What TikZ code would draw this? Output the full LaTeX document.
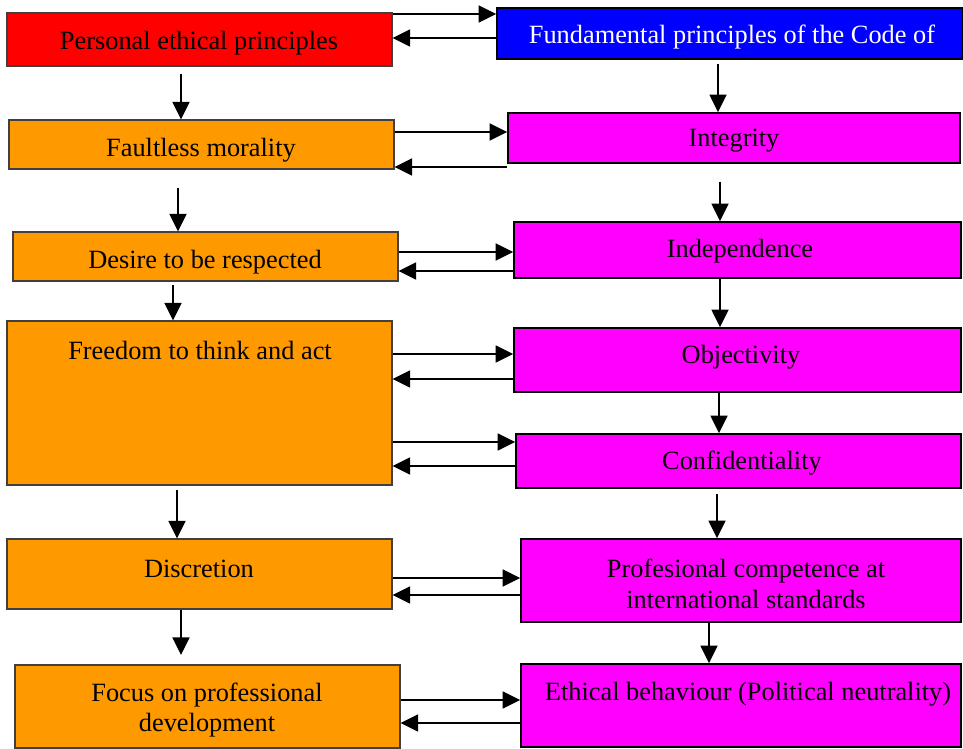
\documentclass[tikz,border=0pt]{standalone}
\usepackage{fontspec}
\setmainfont{Liberation Serif}
\usetikzlibrary{arrows.meta,fit}
\definecolor{boxorange}{HTML}{FF9900}
\definecolor{boxmagenta}{HTML}{FF00FF}
\begin{document}
\begin{tikzpicture}[x=0.02cm, y=-0.02cm,
    txt/.style={font=\fontsize{15}{17.5}\selectfont, align=center, inner sep=0pt},
    box/.style={draw=black!75, line width=0.6pt, inner sep=0pt},
    code/.style={box, draw=black, line width=0.9pt, fill=boxmagenta},
    arr/.style={line width=1.4pt, -{Triangle[length=10pt, width=9.5pt]}}]
    % the frame
    \useasboundingbox (0,0) rectangle (963,749);

    % personal side
    \node[box, fill=red, fit={(7,13) (392,66)}] (pers) {};
    \node[box, fill=boxorange, fit={(9,120) (394,169)}] (moral) {};
    \node[box, fill=boxorange, fit={(13,232) (398,281)}] (resp) {};
    \node[box, fill=boxorange, fit={(7,321) (392,485)}] (free) {};
    \node[box, fill=boxorange, fit={(7,539) (392,609)}] (discr) {};
    \node[box, fill=boxorange, fit={(15,665) (400,748)}] (focus) {};

    \node[txt] (persT) at (199,43) {Personal ethical principles};
    \node[txt] (moralT) at (201,150) {Faultless morality};
    \node[txt] (respT) at (205,262) {Desire to be respected};
    \node[txt] (freeT) at (200,350) {Freedom to think and act};
    \node[txt] (discrT) at (199,569) {Discretion};
    \node[txt] (focusT) at (207,710) {Focus on professional\\development};

    % code side
    \node[box, draw=black, line width=0.9pt, fill=blue, fit={(497,8) (963,59)}] (code) {};
    \node[code, fit={(508,113) (960,163)}] (integ) {};
    \node[code, fit={(514,222) (961,278)}] (indep) {};
    \node[code, fit={(514,328) (961,392)}] (objec) {};
    \node[code, fit={(516,434) (961,488)}] (confi) {};
    \node[code, fit={(521,539) (961,622)}] (compe) {};
    \node[code, fit={(521,664) (961,747)}] (behav) {};

    \node[txt, text=white] (codeT) at (732,37) {Fundamental principles of the Code of};
    \node[txt] (integT) at (734,141) {Integrity};
    \node[txt] (indepT) at (740,251) {Independence};
    \node[txt] (objecT) at (741,357) {Objectivity};
    \node[txt] (confiT) at (742,463) {Confidentiality};
    \node[txt] (compeT) at (746,584) {Profesional competence at\\international standards};
    \node[txt] (behavT) at (748,694) {Ethical behaviour (Political neutrality)};

    % arrows down
    \coordinate (a1) at (181,74);
    \coordinate (a2) at (178,188);
    \coordinate (a3) at (173,285);
    \coordinate (a4) at (177,490);
    \coordinate (a5) at (181,655);
    \coordinate (b1) at (718,64);
    \coordinate (b2) at (720,182);
    \coordinate (b5) at (717,494);

    \draw[arr] (a1) -- (moral.north -| a1);
    \draw[arr] (a2) -- (resp.north -| a2);
    \draw[arr] (a3) -- (free.north -| a3);
    \draw[arr] (a4) -- (discr.north -| a4);
    \draw[arr] (discr.south -| a5) -- (a5);
    \draw[arr] (b1) -- (integ.north -| b1);
    \draw[arr] (b2) -- (indep.north -| b2);
    \draw[arr] (indep.south -| 720,0) -- (objec.north -| 720,0);
    \draw[arr] (objec.south -| 719,0) -- (confi.north -| 719,0);
    \draw[arr] (b5) -- (compe.north -| b5);
    \draw[arr] (compe.south -| 709,0) -- (behav.north -| 709,0);

    % arrows across
    \foreach \a/\b/\yr/\yl in {pers/code/14/38, moral/integ/132/167, resp/indep/252/271,
        free/objec/354/379, free/confi/442/466, discr/compe/578/595, focus/behav/700/723} {
        \draw[arr] (\a.east |- 0,\yr) -- (\b.west |- 0,\yr);
        \draw[arr] (\b.west |- 0,\yl) -- (\a.east |- 0,\yl);
    };
\end{tikzpicture}
\end{document}
